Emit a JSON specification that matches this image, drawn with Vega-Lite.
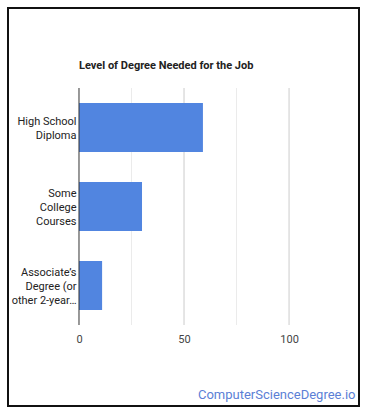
{
  "$schema": "https://vega.github.io/schema/vega-lite/v6.json",
  "width": 351,
  "height": 398,
  "autosize": {"type": "none"},
  "padding": {"left": 8, "top": 8, "right": 11, "bottom": 11},
  "background": "white",
  "config": {
    "font": "Roboto",
    "view": {"stroke": "#111111", "strokeWidth": 2}
  },
  "title": {
    "text": "Level of Degree Needed for the Job",
    "anchor": "start",
    "frame": "group",
    "dx": 71,
    "offset": -72,
    "baseline": "alphabetic",
    "font": "Roboto",
    "fontSize": 11,
    "fontWeight": "bold",
    "color": "#222222"
  },
  "layer": [
    {
      "data": {"values": [
        {"tick": 25, "kind": "minor"},
        {"tick": 50, "kind": "major"},
        {"tick": 75, "kind": "minor"},
        {"tick": 100, "kind": "major"}
      ]},
      "mark": {"type": "rule", "strokeWidth": 1},
      "encoding": {
        "x": {"field": "tick", "type": "quantitative"},
        "y": {"datum": 0, "type": "quantitative", "scale": {"domain": [0, 1], "range": [317, 80]}, "axis": null},
        "y2": {"datum": 1},
        "color": {
          "field": "kind", "type": "nominal",
          "scale": {"domain": ["minor", "major"], "range": ["#ebebeb", "#cccccc"]},
          "legend": null
        }
      }
    },
    {
      "data": {"values": [
        {"level": "High School Diploma", "share": 59},
        {"level": "Some College Courses", "share": 30},
        {"level": "Associate's Degree (or other 2-year degree)", "share": 11}
      ]},
      "mark": {"type": "bar", "color": "#5185e0"},
      "encoding": {
        "y": {
          "field": "level", "type": "nominal", "sort": null,
          "scale": {"range": [80, 317], "paddingInner": 0.38, "paddingOuter": 0.19},
          "axis": {
            "orient": "left",
            "offset": -71,
            "title": null,
            "domain": false,
            "ticks": false,
            "grid": false,
            "labelPadding": 3,
            "labelFont": "Roboto",
            "labelFontSize": 11,
            "labelColor": "#222222",
            "labelLineHeight": 14,
            "labelLimit": 200,
            "labelOffset": {"condition": {"test": "datum.value == 'High School Diploma'", "value": -6}, "value": -13},
            "labelExpr": "datum.value == 'High School Diploma' ? ['High School', 'Diploma'] : datum.value == 'Some College Courses' ? ['Some', 'College', 'Courses'] : ['Associate\u2019s', 'Degree (or', 'other 2-year\u2026']"
          }
        },
        "x": {
          "field": "share", "type": "quantitative",
          "scale": {"domain": [-33.8, 133.3], "nice": false, "zero": false},
          "axis": {
            "orient": "bottom",
            "offset": -81,
            "values": [0, 50, 100],
            "grid": false,
            "domain": false,
            "ticks": false,
            "labelPadding": 8,
            "labelFont": "Roboto",
            "labelFontSize": 11,
            "labelColor": "#444444",
            "title": "ComputerScienceDegree.io",
            "titleFont": "Roboto",
            "titleFontSize": 13,
            "titleFontWeight": "normal",
            "titleColor": "#5b7fd6",
            "titleAnchor": "end",
            "titleAlign": "right",
            "titleBaseline": "alphabetic",
            "titleX": 347,
            "titleY": 73
          }
        }
      }
    },
    {
      "data": {"values": [{"tick": 0}]},
      "mark": {"type": "rule", "color": "#333333", "strokeWidth": 1},
      "encoding": {
        "x": {"field": "tick", "type": "quantitative"},
        "y": {"datum": 0, "type": "quantitative", "scale": {"domain": [0, 1], "range": [317, 80]}, "axis": null},
        "y2": {"datum": 1}
      }
    }
  ],
  "resolve": {"scale": {"y": "independent", "color": "independent"}}
}
